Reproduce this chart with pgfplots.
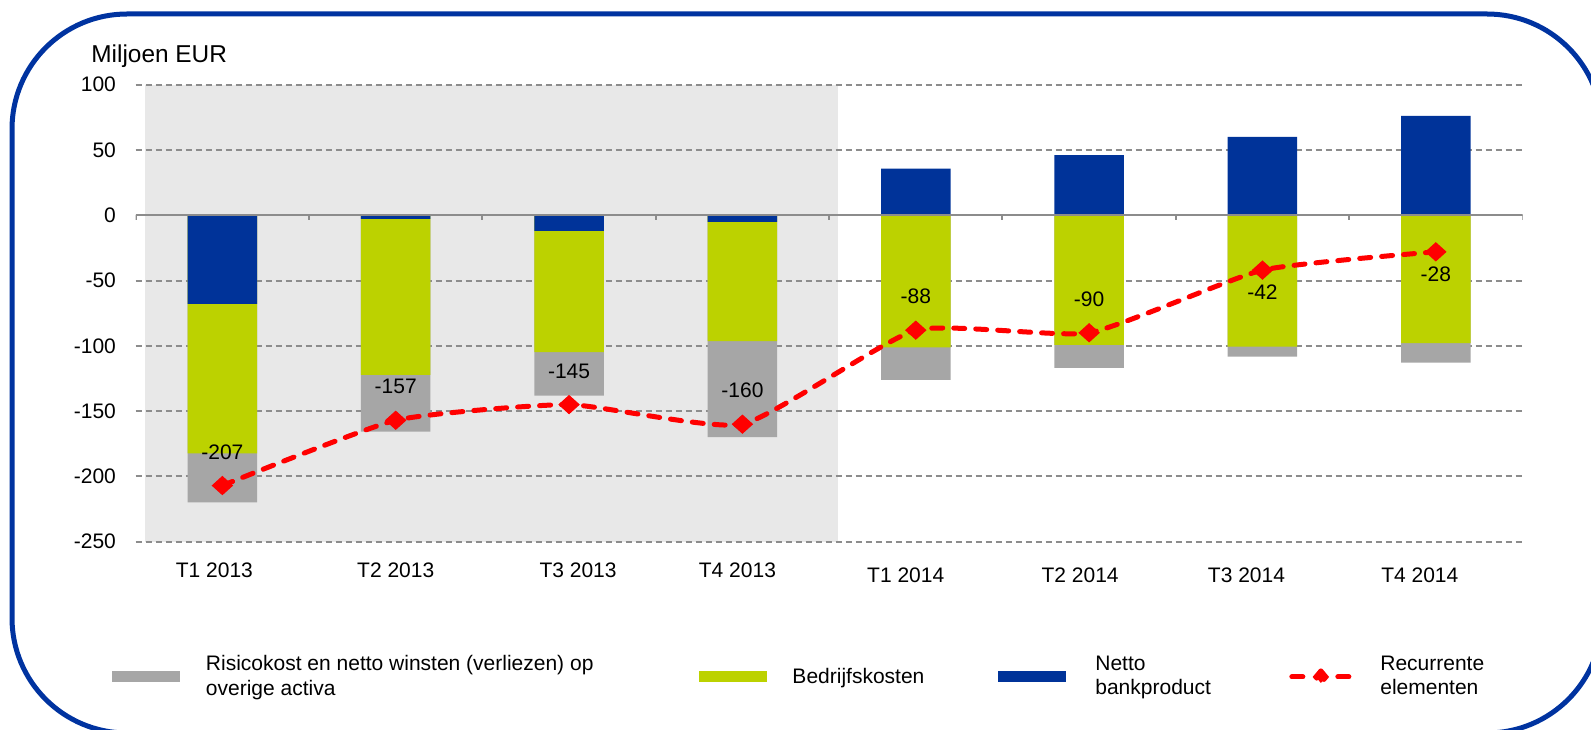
\documentclass[border=0pt]{standalone}
\usepackage{pgfplots}
\pgfplotsset{compat=1.18}
\usepackage{pgfplotstable}
\usepackage{fontspec}
\setmainfont{Liberation Sans}
\definecolor{barGray}{HTML}{A6A6A6}
\definecolor{barGreen}{HTML}{BCD200}
\definecolor{barBlue}{HTML}{003399}
\definecolor{shadeGray}{HTML}{E8E8E8}
\definecolor{gridGray}{HTML}{8C8C8C}
\definecolor{borderBlue}{HTML}{0033A0}
\definecolor{lineRed}{HTML}{FF0000}

% bar ends (cumulative from 0): blue end, green end, gray end; line = recurrente elementen
\pgfplotstableread{
x blue green gray line off
0 -67.9 -182.3 -219.8 -207 16.75
1 -2.8 -122.3 -165.7 -157 16.75
2 -12.0 -104.9 -138.2 -145 16.75
3 -5.1 -96.3 -170.0 -160 16.75
4 35.7 -101.1 -126.1 -88 16.75
5 46.0 -99.3 -116.9 -90 16.75
6 60.0 -100.6 -108.3 -42 -11
7 76.1 -98.0 -112.9 -28 -11
}\data

\begin{document}
\begin{tikzpicture}
\path (0,0) rectangle (795.5pt,364.5pt);
\begin{scope}[overlay]
\clip (0,0) rectangle (795.5pt,364.5pt);
\draw[borderBlue, line width=2.5pt, rounded corners=57.5pt] (6pt,357.5pt) rectangle (801pt,-2pt);
\end{scope}
\node[anchor=west, inner sep=0pt, font=\fontsize{12.2}{14}\selectfont] at (45.5pt,336.5pt) {Miljoen EUR};
\begin{axis}[
  set layers,
  at={(67.85pt,93.65pt)}, anchor=south west,
  scale only axis, width=693.4pt, height=228.5pt,
  xmin=-0.5, xmax=7.5, ymin=-250, ymax=100,
  axis line style={draw=none},
  major tick length=0pt,
  ytick={-250,-200,-150,-100,-50,0,50,100},
  xtick={0,1,2,3},
  xticklabels={\hspace*{-8pt}T1 2013,T2 2013,\hspace*{9pt}T3 2013,\hspace*{-5pt}T4 2013},
  extra x ticks={4,5,6,7},
  extra x tick labels={\hspace*{-10pt}T1 2014,\hspace*{-9pt}T2 2014,\hspace*{-16pt}T3 2014,\hspace*{-16pt}T4 2014},
  extra x tick style={tick label style={yshift=-2.5pt}},
  /pgf/number format/assume math mode=true,
  tick label style={font=\fontsize{10.5}{12}\selectfont, inner sep=0pt},
  yticklabel style={anchor=east, xshift=-9.7pt},
  xticklabel style={anchor=north, yshift=-10.4pt},
  ymajorgrids,
  grid style={draw=gridGray, line width=1pt, dash pattern=on 3pt off 2pt},
  legend style={
    at={(-0.0171,-0.296)}, anchor=west,
    draw=none, fill=none, inner sep=0pt, outer sep=0pt,
    legend columns=4,
    font=\fontsize{10.5}{12.15}\selectfont,
    nodes={inner sep=0pt, align=left},
    cells={anchor=west},
    /tikz/column 1/.style={column sep=13pt},
    /tikz/column 2/.style={column sep=53pt},
    /tikz/column 3/.style={column sep=12.5pt},
    /tikz/column 4/.style={column sep=37pt},
    /tikz/column 5/.style={column sep=14.5pt},
    /tikz/column 6/.style={column sep=39.2pt},
    /tikz/column 7/.style={column sep=14pt},
  },
]
\addplot[fill=shadeGray, draw=none, on layer=axis background, forget plot]
  coordinates {(-0.446,-250) (-0.446,100) (3.551,100) (3.551,-250)} -- cycle;

\addplot[ybar, bar shift=0pt, bar width=34.75pt, fill=barGray, draw=none,
  legend image code/.code={\fill[barGray] (0pt,-2.75pt) rectangle (34pt,2.75pt);}]
  table[x=x, y=gray] {\data};
\addlegendentry{Risicokost en netto winsten (verliezen) op\\overige activa}

\addplot[ybar, bar shift=0pt, bar width=34.75pt, fill=barGreen, draw=none,
  legend image code/.code={\fill[barGreen] (0pt,-2.75pt) rectangle (34pt,2.75pt);}]
  table[x=x, y=green] {\data};
\addlegendentry{Bedrijfskosten}

\addplot[ybar, bar shift=0pt, bar width=34.75pt, fill=barBlue, draw=none,
  legend image code/.code={\fill[barBlue] (0pt,-2.75pt) rectangle (34pt,2.75pt);}]
  table[x=x, y=blue] {\data};
\addlegendentry{Netto\\bankproduct}

\pgfplotsinvokeforeach{-0.5,0.5,1.5,2.5,3.5,4.5,5.5,6.5,7.5}{
  \draw[gridGray, line width=1pt] (axis cs:#1,0) -- ++(0pt,-2.5pt);
}
\draw[gridGray, line width=1pt] (axis cs:-0.5,0) -- (axis cs:7.5,0);

\addplot[lineRed, line width=2.5pt, line cap=round, dash pattern=on 5.5pt off 5.5pt,
  smooth, tension=0.3,
  mark=diamond*, mark size=4.5pt,
  mark options={solid, xscale=1.48, fill=lineRed, draw=lineRed, line width=0.5pt},
  visualization depends on={\thisrow{off} \as \labeloff},
  nodes near coords,
  every node near coord/.append style={text=black, anchor=center, inner sep=0pt,
     font=\fontsize{10.5}{12}\selectfont, yshift=\labeloff pt},
  legend image code/.code={
    \draw[lineRed, line width=2.5pt, line cap=round] (1.25pt,0pt) -- (7.25pt,0pt);
    \draw[lineRed, line width=2.5pt, line cap=round] (14.25pt,0pt) -- (17.25pt,0pt);
    \draw[lineRed, line width=2.5pt, line cap=round] (24.25pt,0pt) -- (30.25pt,0pt);
    \fill[lineRed] (15.75pt,3pt) -- (18.25pt,0pt) -- (15.75pt,-3pt) -- (13.25pt,0pt) -- cycle;}]
  table[x=x, y=line] {\data};
\addlegendentry{Recurrente\\elementen}
\end{axis}
\end{tikzpicture}
\end{document}
